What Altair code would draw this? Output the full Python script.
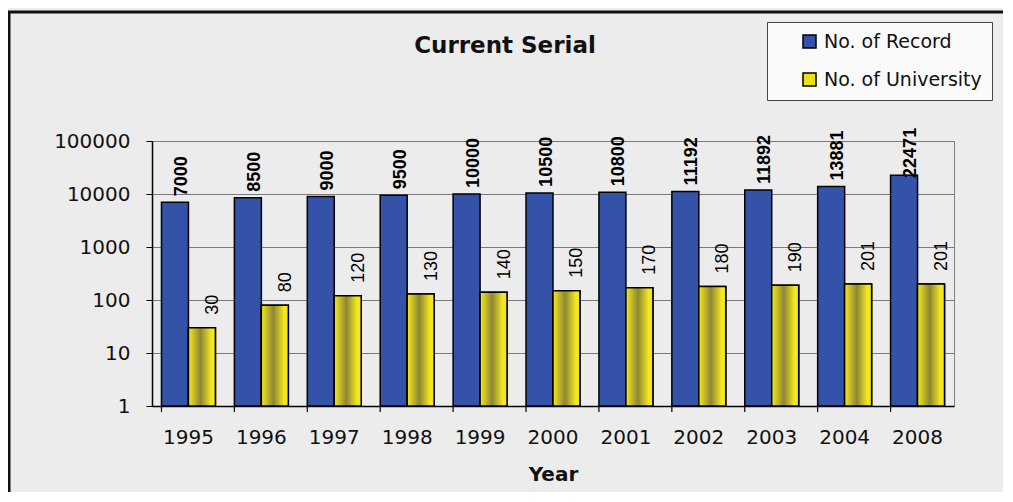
import altair as alt
import pandas as pd

years = ["1995", "1996", "1997", "1998", "1999", "2000", "2001", "2002", "2003", "2004", "2008"]
records = [7000, 8500, 9000, 9500, 10000, 10500, 10800, 11192, 11892, 13881, 22471]
universities = [30, 80, 120, 130, 140, 150, 170, 180, 190, 201, 201]
series_names = ["No. of Record", "No. of University"]
y_ticks = [1, 10, 100, 1000, 10000, 100000]
title_text = "Current Serial"

rows = []
for yr, r, u in zip(years, records, universities):
    rows.append({"Year": yr, "Series": series_names[0], "Value": r})
    rows.append({"Year": yr, "Series": series_names[1], "Value": u})
df = pd.DataFrame(rows)
tick_df = pd.DataFrame({"Year": years})

W, H = 802, 265
FONT = "DejaVu Sans"
BLUE = "#3352a8"
YELLOW = "#ece01e"

x_scale = alt.Scale(domain=years, paddingInner=0.26, paddingOuter=0.13)
x_axis = alt.Axis(title="Year", labelAngle=0, ticks=False, tickSize=0, labelPadding=21,
                  labelFont=FONT, labelFontSize=20, labelColor="#111",
                  titleFont=FONT, titleFontSize=20, titleFontWeight="bold", titleColor="#111",
                  titlePadding=17, domainColor="#000", domainWidth=1.5, grid=False)
y_scale = alt.Scale(type="log", domain=[1, 100000])
y_axis = alt.Axis(title=None, values=y_ticks, format="d", labelFont=FONT, labelFontSize=20,
                  labelColor="#111", labelPadding=16, tickSize=6, tickColor="#000",
                  domainColor="#000", domainWidth=1.5, gridColor="#7a7a7a", gridWidth=1)

x_enc = alt.X("Year:N", sort=years, scale=x_scale, axis=x_axis)
xoff = alt.XOffset("Series:N", sort=series_names,
                   scale=alt.Scale(domain=series_names, paddingInner=0, paddingOuter=0))
y_val = alt.Y("Value:Q", scale=y_scale, axis=y_axis, stack=None)
y_base = alt.Y2(datum=1)

border = alt.Chart(pd.DataFrame({"a": [0]})).mark_rect(
    fillOpacity=0, stroke="#111", strokeWidth=3
).encode(x=alt.value(-143), x2=alt.value(900), y=alt.value(-129), y2=alt.value(420))

title = alt.Chart(pd.DataFrame({"t": [title_text]})).mark_text(
    font=FONT, fontSize=23, fontWeight="bold", color="#111", align="center",
    baseline="alphabetic"
).encode(x=alt.value(W / 2 - 48), y=alt.value(-88), text="t:N")

bars = alt.Chart(df).mark_bar(stroke="#000", strokeWidth=1.5).encode(
    x=x_enc,
    xOffset=xoff,
    y=y_val,
    y2=y_base,
    color=alt.Color("Series:N", sort=series_names,
                    scale=alt.Scale(domain=series_names, range=[BLUE, YELLOW]),
                    legend=alt.Legend(title=None, orient="none", legendX=615, legendY=-119,
                                      symbolType="square", symbolSize=169,
                                      symbolStrokeColor="#000", symbolStrokeWidth=1.5,
                                      symbolOffset=23, labelFont=FONT, labelFontSize=19,
                                      labelColor="#111", labelOffset=5, rowPadding=18,
                                      padding=10, fillColor="#fafafa", strokeColor="#444",
                                      labelLimit=400)),
)

grad = alt.Gradient(
    gradient="linear",
    stops=[alt.GradientStop(color="#f5ea1e", offset=0),
           alt.GradientStop(color="#8e8636", offset=0.45),
           alt.GradientStop(color="#f5ea1e", offset=0.85),
           alt.GradientStop(color="#efe21a", offset=1)],
    x1=0, x2=1, y1=0, y2=0,
)

uni_overlay = alt.Chart(df).transform_filter(
    alt.datum.Series == series_names[1]
).mark_bar(fill=grad, stroke="#000", strokeWidth=1.5).encode(
    x=x_enc, xOffset=xoff, y=y_val, y2=y_base
)

rec_text = alt.Chart(df).transform_filter(
    alt.datum.Series == series_names[0]
).transform_calculate(
    LabelPos="min(datum.Value, 15500)"
).mark_text(angle=270, align="left", baseline="middle", dx=6, dy=7,
            font="Liberation Sans", fontSize=18, fontWeight="bold", color="#000").encode(
    x=x_enc, xOffset=xoff,
    y=alt.Y("LabelPos:Q", scale=y_scale, axis=y_axis),
    text=alt.Text("Value:Q", format="d"),
)

uni_text = alt.Chart(df).transform_filter(
    alt.datum.Series == series_names[1]
).mark_text(angle=270, align="left", baseline="middle", dx=13, dy=11,
            font="Liberation Sans", fontSize=18, color="#000").encode(
    x=x_enc, xOffset=xoff,
    y=alt.Y("Value:Q", scale=y_scale, axis=y_axis),
    text=alt.Text("Value:Q", format="d"),
)

ticks = alt.Chart(tick_df).mark_rule(color="#000", strokeWidth=1.2).encode(
    x=alt.X("Year:N", sort=years, scale=x_scale, axis=x_axis, bandPosition=0),
    y=alt.value(H), y2=alt.value(H + 6),
)

chart = alt.layer(border, title, bars, uni_overlay, rec_text, uni_text, ticks).properties(
    width=W, height=H,
    autosize=alt.AutoSizeParams(type="none"),
    padding={"left": 144, "top": 133, "right": 49, "bottom": 86},
    background="#ececec",
).configure_view(stroke="#808080", strokeWidth=1)

chart.save("out.html", embed_options={"renderer": "svg", "actions": False})
